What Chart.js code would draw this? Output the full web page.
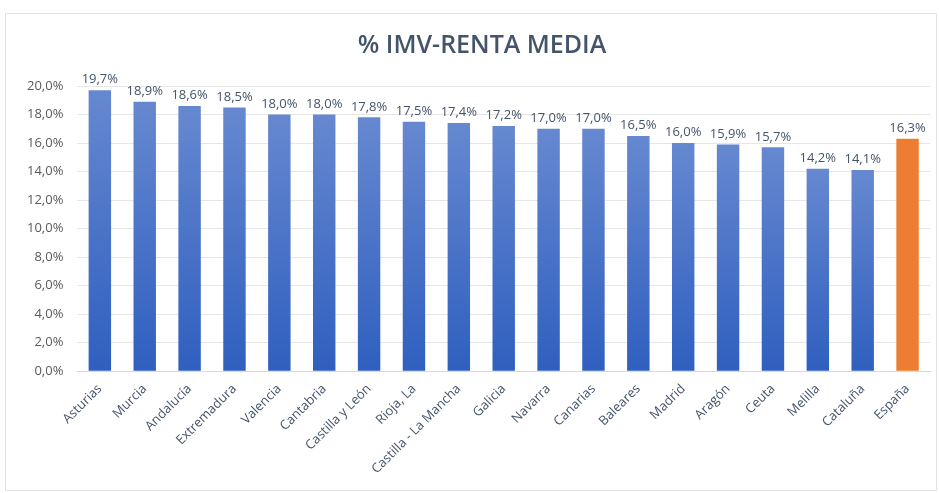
<!DOCTYPE html>
<html lang="es">
<head>
<meta charset="UTF-8">
<title>% IMV-RENTA MEDIA</title>
<script src="https://cdn.jsdelivr.net/npm/chart.js"></script>
<style>
  html, body { margin: 0; padding: 0; background: #fff; }
  .marco {
    position: absolute; left: 5px; top: 13px;
    width: 932px; height: 478px;
    border: 1px solid #e3e3e3; box-sizing: border-box;
  }
  canvas { display: block; }
</style>
</head>
<body>
<div class="marco">
  <canvas id="grafico" width="930" height="476"></canvas>
</div>
<script>
// Datos
const titulo = '% IMV-RENTA MEDIA';
const comunidades = ['Asturias', 'Murcia', 'Andalucía', 'Extremadura', 'Valencia', 'Cantabria',
  'Castilla y León', 'Rioja, La', 'Castilla - La Mancha', 'Galicia', 'Navarra', 'Canarias',
  'Baleares', 'Madrid', 'Aragón', 'Ceuta', 'Melilla', 'Cataluña', 'España'];
const porcentajes = [19.7, 18.9, 18.6, 18.5, 18.0, 18.0, 17.8, 17.5, 17.4, 17.2, 17.0, 17.0,
  16.5, 16.0, 15.9, 15.7, 14.2, 14.1, 16.3];
const marcasY = [0, 2, 4, 6, 8, 10, 12, 14, 16, 18, 20];

function formato(v) {
  return v.toFixed(1).replace('.', ',') + '%';
}

// Color de cada barra: degradado azul, naranja para España
function colorBarra(ctx) {
  const chart = ctx.chart;
  const area = chart.chartArea;
  if (!area) return '#4472c4';
  if (comunidades[ctx.dataIndex] === 'España') return '#ed7d31';
  const y = chart.scales.y;
  const top = y.getPixelForValue(porcentajes[ctx.dataIndex]);
  const g = chart.ctx.createLinearGradient(0, top, 0, y.getPixelForValue(0));
  g.addColorStop(0, '#6688d0');
  g.addColorStop(1, '#2f5fbf');
  return g;
}

// Etiquetas encima de las barras y título
const etiquetas = {
  id: 'etiquetas',
  afterDatasetsDraw(chart) {
    const ctx = chart.ctx;
    const meta = chart.getDatasetMeta(0);
    ctx.save();
    ctx.font = '13px "Open Sans", sans-serif';
    ctx.fillStyle = '#44546a';
    ctx.textAlign = 'center';
    ctx.textBaseline = 'bottom';
    meta.data.forEach((bar, i) => {
      ctx.fillText(formato(porcentajes[i]), bar.x, bar.y - 4);
    });
    ctx.font = '600 25px "Open Sans", sans-serif';
    ctx.textBaseline = 'middle';
    ctx.fillText(titulo, 476, 32);
    ctx.restore();
  }
};

new Chart(document.getElementById('grafico'), {
  type: 'bar',
  data: {
    labels: comunidades,
    datasets: [{
      data: porcentajes,
      backgroundColor: colorBarra,
      borderWidth: 0,
      categoryPercentage: 1,
      barPercentage: 0.5
    }]
  },
  options: {
    responsive: false,
    animation: false,
    layout: { padding: { top: 72, right: 6, left: 7, bottom: 11 } },
    plugins: {
      legend: { display: false },
      tooltip: { enabled: false },
      title: { display: false }
    },
    scales: {
      x: {
        grid: { display: false },
        border: { color: '#d9d9d9' },
        ticks: {
          color: '#44546a',
          font: { family: '"Open Sans", sans-serif', size: 13 },
          minRotation: 45, maxRotation: 45,
          autoSkip: false,
          padding: 2
        }
      },
      y: {
        min: 0, max: 20,
        afterBuildTicks(axis) { axis.ticks = marcasY.map(v => ({ value: v })); },
        grid: { color: '#e6e6e6', drawTicks: false },
        border: { display: false },
        ticks: {
          color: '#595959',
          font: { family: '"Open Sans", sans-serif', size: 13 },
          padding: 14,
          callback: v => formato(v)
        }
      }
    }
  },
  plugins: [etiquetas]
});
</script>
</body>
</html>
